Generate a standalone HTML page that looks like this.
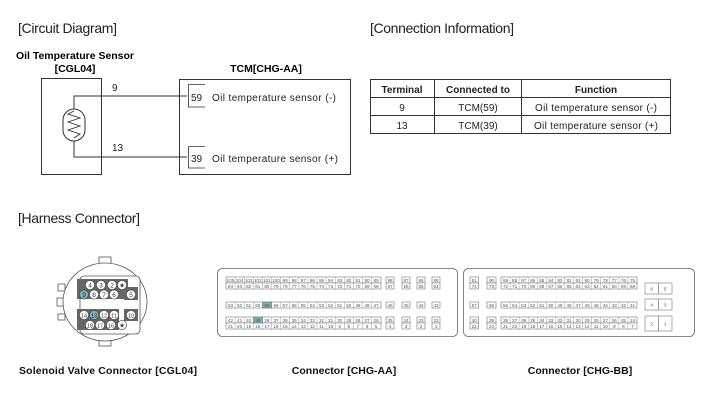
<!DOCTYPE html>
<html><head><meta charset="utf-8"><style>
html,body{margin:0;padding:0;background:#fff;}
svg{display:block;font-family:"Liberation Sans",Arial,sans-serif;}
.c rect{fill:#fff;stroke:#777;stroke-width:0.6}
.t text{font-size:4.6px;fill:#555;text-anchor:middle}
</style></head><body>
<svg width="701" height="408" viewBox="0 0 701 408" xmlns="http://www.w3.org/2000/svg">
<text x="18" y="33" font-size="14" textLength="99" fill="#222">[Circuit Diagram]</text>
<text x="370" y="33" font-size="14" textLength="144" fill="#222">[Connection Information]</text>
<text x="18" y="223" font-size="14" textLength="122" fill="#222">[Harness Connector]</text>

<text x="75" y="59" font-size="10.5" font-weight="bold" text-anchor="middle" textLength="118">Oil Temperature Sensor</text>
<text x="75" y="72" font-size="10.5" font-weight="bold" text-anchor="middle">[CGL04]</text>
<text x="266" y="72" font-size="10.5" font-weight="bold" text-anchor="middle">TCM[CHG-AA]</text>

<g fill="none" stroke="#333" stroke-width="1">
<rect x="41.5" y="78.5" width="60" height="96"/>
<rect x="179.5" y="79.5" width="171" height="95"/>
<polyline points="74,109 74,96 187,96"/>
<polyline points="74,141 74,157 187,157"/>
<rect x="63" y="109" width="22" height="32" rx="11"/>
<polyline points="74,111 68,114 80,118 68,122 80,126 68,130 80,134 74,138" stroke-width="0.9"/>
<polyline points="205,84.5 188.5,84.5 188.5,107 205,107" stroke-width="0.8"/>
<polyline points="205,146.5 188.5,146.5 188.5,168 205,168" stroke-width="0.8"/>
</g>
<g font-size="10" fill="#222">
<text x="112" y="91">9</text>
<text x="112" y="151">13</text>
<text x="191" y="101">59</text>
<text x="191" y="162">39</text>
<text x="212" y="101" textLength="124">Oil temperature sensor (-)</text>
<text x="212" y="162" textLength="126">Oil temperature sensor (+)</text>
</g>

<g fill="none" stroke="#333" stroke-width="1">
<rect x="370.5" y="79.5" width="300" height="54"/>
<line x1="371" y1="97.5" x2="671" y2="97.5"/>
<line x1="371" y1="115.5" x2="671" y2="115.5"/>
<line x1="434.5" y1="80" x2="434.5" y2="134"/>
<line x1="521.5" y1="80" x2="521.5" y2="134"/>
</g>
<g font-size="10" fill="#222" text-anchor="middle">
<text x="402" y="93" font-weight="bold">Terminal</text>
<text x="478" y="93" font-weight="bold">Connected to</text>
<text x="596" y="93" font-weight="bold">Function</text>
<text x="402" y="111">9</text><text x="478" y="111">TCM(59)</text><text x="596" y="111" textLength="122">Oil temperature sensor (-)</text>
<text x="402" y="129">13</text><text x="478" y="129">TCM(39)</text><text x="596" y="129" textLength="124">Oil temperature sensor (+)</text>
</g>

<!-- circular connector -->
<g fill="#fff" stroke="#555" stroke-width="0.8">
<rect x="99" y="257" width="12" height="7"/><rect x="99" y="339" width="12" height="7"/>
<rect x="58" y="284" width="7" height="7"/><rect x="57" y="298" width="7" height="8"/><rect x="58" y="314" width="7" height="6"/>
<ellipse cx="105" cy="302" rx="42" ry="39"/>
<rect x="80" y="276" width="60" height="58" rx="4"/>
<rect x="77" y="279" width="51" height="20" fill="#666" stroke="none"/>
<rect x="124" y="287" width="14" height="13" fill="#666" stroke="none"/>
<rect x="77" y="309" width="42" height="21" fill="#666" stroke="none"/>
<rect x="124" y="309" width="14" height="12" fill="#666" stroke="none"/>
</g>
<g stroke="#444" stroke-width="0.6" fill="#fff">
<circle cx="90" cy="285" r="4.6"/><circle cx="101" cy="285" r="4.6"/><circle cx="112" cy="285" r="4.6"/><circle cx="122" cy="285" r="4.6"/>
<circle cx="84" cy="294.5" r="4.6" fill="#7ab0b3"/><circle cx="94" cy="294.5" r="4.6"/><circle cx="104" cy="294.5" r="4.6"/><circle cx="114" cy="294.5" r="4.6"/><circle cx="131" cy="294.5" r="4.6"/>
<circle cx="84" cy="315" r="4.6"/><circle cx="94" cy="315" r="4.6" fill="#7ab0b3"/><circle cx="104" cy="315" r="4.6"/><circle cx="114" cy="315" r="4.6"/><circle cx="131" cy="315" r="4.6"/>
<circle cx="90" cy="325" r="4.6"/><circle cx="100" cy="325" r="4.6"/><circle cx="111" cy="325" r="4.6"/><circle cx="122" cy="325" r="4.6"/>
</g>
<g font-size="6.5" fill="#333" text-anchor="middle">
<text x="90" y="287.5">4</text><text x="101" y="287.5">3</text><text x="112" y="287.5">2</text><text x="122" y="287.5">★</text>
<text x="84" y="297">9</text><text x="94" y="297">8</text><text x="104" y="297">7</text><text x="114" y="297">6</text><text x="131" y="297">5</text>
<text x="84" y="317.5" font-size="5.5">14</text><text x="94" y="317.5" font-size="5.5">13</text><text x="104" y="317.5" font-size="5.5">12</text><text x="114" y="317.5" font-size="5.5">11</text><text x="131" y="317.5" font-size="5.5">10</text>
<text x="90" y="327.5" font-size="5.5">18</text><text x="100" y="327.5" font-size="5.5">17</text><text x="111" y="327.5" font-size="5.5">16</text><text x="122" y="327.5">★</text>
</g>

<rect x="217.5" y="268.5" width="240" height="68" rx="5" fill="none" stroke="#666" stroke-width="0.8"/>
<rect x="463.5" y="268.5" width="231" height="68" rx="5" fill="none" stroke="#666" stroke-width="0.8"/>

<!-- CHG-AA grid -->
<g class="c">
<rect x="226" y="277" width="155" height="6"/><rect x="226" y="283" width="155" height="6"/>
<rect x="226" y="302" width="155" height="6"/>
<rect x="226" y="317" width="155" height="6"/><rect x="226" y="323" width="155" height="6"/>
<rect x="262.5" y="302" width="9.1" height="6" style="fill:#7ab0b3"/>
<rect x="253.4" y="317" width="9.1" height="6" style="fill:#7ab0b3"/>
<rect x="386" y="277" width="8" height="6"/><rect x="402" y="277" width="8" height="6"/><rect x="417" y="277" width="8" height="6"/><rect x="432" y="277" width="8" height="6"/>
<rect x="386" y="283" width="8" height="6"/><rect x="402" y="283" width="8" height="6"/><rect x="417" y="283" width="8" height="6"/><rect x="432" y="283" width="8" height="6"/>
<rect x="386" y="302" width="8" height="6"/><rect x="402" y="302" width="8" height="6"/><rect x="417" y="302" width="8" height="6"/><rect x="432" y="302" width="8" height="6"/>
<rect x="386" y="317" width="8" height="6"/><rect x="402" y="317" width="8" height="6"/><rect x="417" y="317" width="8" height="6"/><rect x="432" y="317" width="8" height="6"/>
<rect x="386" y="323" width="8" height="6"/><rect x="402" y="323" width="8" height="6"/><rect x="417" y="323" width="8" height="6"/><rect x="432" y="323" width="8" height="6"/>
</g>
<g stroke="#888" stroke-width="0.4">
<path d="M235.1 277v12M244.2 277v12M253.3 277v12M262.4 277v12M271.5 277v12M280.6 277v12M289.7 277v12M298.8 277v12M307.9 277v12M317 277v12M326.1 277v12M335.2 277v12M344.3 277v12M353.4 277v12M362.5 277v12M371.6 277v12"/>
<path d="M235.1 302v6M244.2 302v6M253.3 302v6M262.4 302v6M271.5 302v6M280.6 302v6M289.7 302v6M298.8 302v6M307.9 302v6M317 302v6M326.1 302v6M335.2 302v6M344.3 302v6M353.4 302v6M362.5 302v6M371.6 302v6"/>
<path d="M235.1 317v12M244.2 317v12M253.3 317v12M262.4 317v12M271.5 317v12M280.6 317v12M289.7 317v12M298.8 317v12M307.9 317v12M317 317v12M326.1 317v12M335.2 317v12M344.3 317v12M353.4 317v12M362.5 317v12M371.6 317v12"/>
</g>
<g class="t">
<text x="230.5" y="281.8">105</text><text x="239.6" y="281.8">104</text><text x="248.7" y="281.8">103</text><text x="257.8" y="281.8">102</text><text x="266.9" y="281.8">101</text><text x="276" y="281.8">100</text><text x="285.1" y="281.8">99</text><text x="294.2" y="281.8">98</text><text x="303.3" y="281.8">97</text><text x="312.4" y="281.8">96</text><text x="321.5" y="281.8">95</text><text x="330.6" y="281.8">94</text><text x="339.7" y="281.8">93</text><text x="348.8" y="281.8">92</text><text x="357.9" y="281.8">91</text><text x="367" y="281.8">90</text><text x="376.1" y="281.8">89</text>
<text x="390" y="281.8">88</text><text x="406" y="281.8">87</text><text x="421" y="281.8">86</text><text x="436" y="281.8">85</text>
<text x="230.5" y="287.8">84</text><text x="239.6" y="287.8">83</text><text x="248.7" y="287.8">82</text><text x="257.8" y="287.8">81</text><text x="266.9" y="287.8">80</text><text x="276" y="287.8">79</text><text x="285.1" y="287.8">78</text><text x="294.2" y="287.8">77</text><text x="303.3" y="287.8">76</text><text x="312.4" y="287.8">75</text><text x="321.5" y="287.8">74</text><text x="330.6" y="287.8">73</text><text x="339.7" y="287.8">72</text><text x="348.8" y="287.8">71</text><text x="357.9" y="287.8">70</text><text x="367" y="287.8">69</text><text x="376.1" y="287.8">68</text>
<text x="390" y="287.8">67</text><text x="406" y="287.8">66</text><text x="421" y="287.8">65</text><text x="436" y="287.8">64</text>
<text x="230.5" y="306.8">63</text><text x="239.6" y="306.8">62</text><text x="248.7" y="306.8">61</text><text x="257.8" y="306.8">60</text><text x="266.9" y="306.8">59</text><text x="276" y="306.8">58</text><text x="285.1" y="306.8">57</text><text x="294.2" y="306.8">56</text><text x="303.3" y="306.8">55</text><text x="312.4" y="306.8">54</text><text x="321.5" y="306.8">53</text><text x="330.6" y="306.8">52</text><text x="339.7" y="306.8">51</text><text x="348.8" y="306.8">50</text><text x="357.9" y="306.8">49</text><text x="367" y="306.8">48</text><text x="376.1" y="306.8">47</text>
<text x="390" y="306.8">46</text><text x="406" y="306.8">45</text><text x="421" y="306.8">44</text><text x="436" y="306.8">43</text>
<text x="230.5" y="321.8">42</text><text x="239.6" y="321.8">41</text><text x="248.7" y="321.8">40</text><text x="257.8" y="321.8">39</text><text x="266.9" y="321.8">38</text><text x="276" y="321.8">37</text><text x="285.1" y="321.8">36</text><text x="294.2" y="321.8">35</text><text x="303.3" y="321.8">34</text><text x="312.4" y="321.8">33</text><text x="321.5" y="321.8">32</text><text x="330.6" y="321.8">31</text><text x="339.7" y="321.8">30</text><text x="348.8" y="321.8">29</text><text x="357.9" y="321.8">28</text><text x="367" y="321.8">27</text><text x="376.1" y="321.8">26</text>
<text x="390" y="321.8">25</text><text x="406" y="321.8">24</text><text x="421" y="321.8">23</text><text x="436" y="321.8">22</text>
<text x="230.5" y="327.8">21</text><text x="239.6" y="327.8">20</text><text x="248.7" y="327.8">19</text><text x="257.8" y="327.8">18</text><text x="266.9" y="327.8">17</text><text x="276" y="327.8">16</text><text x="285.1" y="327.8">15</text><text x="294.2" y="327.8">14</text><text x="303.3" y="327.8">13</text><text x="312.4" y="327.8">12</text><text x="321.5" y="327.8">11</text><text x="330.6" y="327.8">10</text><text x="339.7" y="327.8">9</text><text x="348.8" y="327.8">8</text><text x="357.9" y="327.8">7</text><text x="367" y="327.8">6</text><text x="376.1" y="327.8">5</text>
<text x="390" y="327.8">4</text><text x="406" y="327.8">3</text><text x="421" y="327.8">2</text><text x="436" y="327.8">1</text>
</g>

<!-- CHG-BB grid -->
<g class="c">
<rect x="470" y="277" width="8.5" height="6"/><rect x="470" y="283" width="8.5" height="6"/>
<rect x="487" y="277" width="9" height="6"/><rect x="487" y="283" width="9" height="6"/>
<rect x="501" y="277" width="136" height="6"/><rect x="501" y="283" width="136" height="6"/>
<rect x="470" y="302" width="8.5" height="6"/><rect x="487" y="302" width="9" height="6"/><rect x="501" y="302" width="136" height="6"/>
<rect x="470" y="317" width="8.5" height="6"/><rect x="470" y="323" width="8.5" height="6"/>
<rect x="487" y="317" width="9" height="6"/><rect x="487" y="323" width="9" height="6"/>
<rect x="501" y="317" width="136" height="6"/><rect x="501" y="323" width="136" height="6"/>
<rect x="645" y="283" width="13.5" height="11"/><rect x="658.5" y="283" width="13.5" height="11"/>
<rect x="645" y="299" width="13.5" height="11"/><rect x="658.5" y="299" width="13.5" height="11"/>
<rect x="645" y="316" width="13.5" height="15"/><rect x="658.5" y="316" width="13.5" height="15"/>
</g>
<g stroke="#888" stroke-width="0.4">
<path d="M510.1 277v12M519.1 277v12M528.2 277v12M537.3 277v12M546.3 277v12M555.4 277v12M564.5 277v12M573.5 277v12M582.6 277v12M591.7 277v12M600.7 277v12M609.8 277v12M618.9 277v12M627.9 277v12"/>
<path d="M510.1 302v6M519.1 302v6M528.2 302v6M537.3 302v6M546.3 302v6M555.4 302v6M564.5 302v6M573.5 302v6M582.6 302v6M591.7 302v6M600.7 302v6M609.8 302v6M618.9 302v6M627.9 302v6"/>
<path d="M510.1 317v12M519.1 317v12M528.2 317v12M537.3 317v12M546.3 317v12M555.4 317v12M564.5 317v12M573.5 317v12M582.6 317v12M591.7 317v12M600.7 317v12M609.8 317v12M618.9 317v12M627.9 317v12"/>
</g>
<g class="t">
<text x="474.2" y="281.8">61</text><text x="491.5" y="281.8">90</text>
<text x="505.5" y="281.8">89</text><text x="514.6" y="281.8">88</text><text x="523.7" y="281.8">87</text><text x="532.7" y="281.8">86</text><text x="541.8" y="281.8">85</text><text x="550.9" y="281.8">84</text><text x="559.9" y="281.8">83</text><text x="569" y="281.8">82</text><text x="578.1" y="281.8">81</text><text x="587.1" y="281.8">80</text><text x="596.2" y="281.8">79</text><text x="605.3" y="281.8">78</text><text x="614.3" y="281.8">77</text><text x="623.4" y="281.8">76</text><text x="632.5" y="281.8">75</text>
<text x="474.2" y="287.8">74</text><text x="491.5" y="287.8">73</text>
<text x="505.5" y="287.8">72</text><text x="514.6" y="287.8">71</text><text x="523.7" y="287.8">70</text><text x="532.7" y="287.8">69</text><text x="541.8" y="287.8">68</text><text x="550.9" y="287.8">67</text><text x="559.9" y="287.8">66</text><text x="569" y="287.8">65</text><text x="578.1" y="287.8">64</text><text x="587.1" y="287.8">63</text><text x="596.2" y="287.8">62</text><text x="605.3" y="287.8">61</text><text x="614.3" y="287.8">60</text><text x="623.4" y="287.8">59</text><text x="632.5" y="287.8">58</text>
<text x="474.2" y="306.8">57</text><text x="491.5" y="306.8">56</text>
<text x="505.5" y="306.8">55</text><text x="514.6" y="306.8">54</text><text x="523.7" y="306.8">53</text><text x="532.7" y="306.8">52</text><text x="541.8" y="306.8">51</text><text x="550.9" y="306.8">50</text><text x="559.9" y="306.8">49</text><text x="569" y="306.8">48</text><text x="578.1" y="306.8">47</text><text x="587.1" y="306.8">46</text><text x="596.2" y="306.8">45</text><text x="605.3" y="306.8">44</text><text x="614.3" y="306.8">43</text><text x="623.4" y="306.8">42</text><text x="632.5" y="306.8">41</text>
<text x="474.2" y="321.8">40</text><text x="491.5" y="321.8">39</text>
<text x="505.5" y="321.8">38</text><text x="514.6" y="321.8">37</text><text x="523.7" y="321.8">36</text><text x="532.7" y="321.8">35</text><text x="541.8" y="321.8">34</text><text x="550.9" y="321.8">33</text><text x="559.9" y="321.8">32</text><text x="569" y="321.8">31</text><text x="578.1" y="321.8">30</text><text x="587.1" y="321.8">29</text><text x="596.2" y="321.8">28</text><text x="605.3" y="321.8">27</text><text x="614.3" y="321.8">26</text><text x="623.4" y="321.8">25</text><text x="632.5" y="321.8">24</text>
<text x="474.2" y="327.8">23</text><text x="491.5" y="327.8">22</text>
<text x="505.5" y="327.8">21</text><text x="514.6" y="327.8">20</text><text x="523.7" y="327.8">19</text><text x="532.7" y="327.8">18</text><text x="541.8" y="327.8">17</text><text x="550.9" y="327.8">16</text><text x="559.9" y="327.8">15</text><text x="569" y="327.8">14</text><text x="578.1" y="327.8">13</text><text x="587.1" y="327.8">12</text><text x="596.2" y="327.8">11</text><text x="605.3" y="327.8">10</text><text x="614.3" y="327.8">9</text><text x="623.4" y="327.8">8</text><text x="632.5" y="327.8">7</text>
<text x="651.7" y="290.3">6</text><text x="665.2" y="290.3">5</text>
<text x="651.7" y="306.3">4</text><text x="665.2" y="306.3">3</text>
<text x="651.7" y="325.3">2</text><text x="665.2" y="325.3">1</text>
</g>

<g font-size="10.5" font-weight="bold" text-anchor="middle" fill="#111">
<text x="108" y="374" textLength="178">Solenoid Valve Connector [CGL04]</text>
<text x="344" y="374">Connector [CHG-AA]</text>
<text x="580" y="374">Connector [CHG-BB]</text>
</g>
</svg>
</body></html>
